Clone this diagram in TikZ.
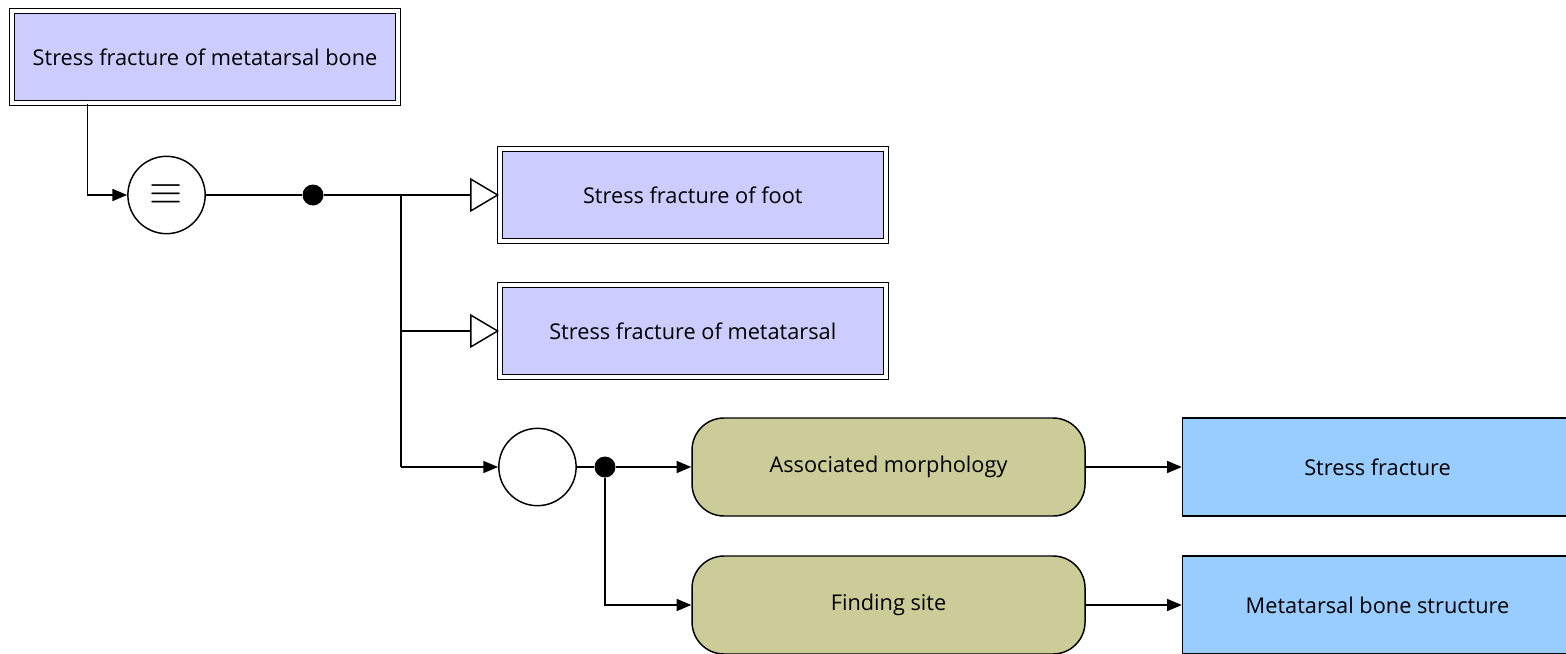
\documentclass[tikz,border=0pt]{standalone}
\usepackage{fontspec}
\setmainfont{Open Sans}
\usetikzlibrary{positioning,arrows.meta}

\definecolor{conceptfill}{HTML}{CCCCFF}
\definecolor{rolefill}{HTML}{CCCC99}
\definecolor{valuefill}{HTML}{99CCFF}

\begin{document}
\begin{tikzpicture}[
  line width=1.1pt,
  mytext/.style={font=\fontsize{16.3}{18}\selectfont},
  myconcept/.style={draw,double,double distance=2.6pt,fill=conceptfill,minimum width=289.5pt,minimum height=69pt,mytext},
  myrole/.style={draw,rounded corners=24pt,fill=rolefill,minimum width=294.75pt,minimum height=73.5pt,mytext},
  myvalue/.style={draw,fill=valuefill,minimum width=292.5pt,minimum height=73.5pt,mytext},
  mycircle/.style={draw,circle,fill=white,minimum size=58pt,inner sep=0pt},
  mydot/.style={circle,fill=black,minimum size=15.75pt,inner sep=0pt},
  myarrow/.style={-{Triangle[length=11pt,width=9pt]}},
  myisa/.style={-{Triangle[open,length=21.75pt,width=25.5pt]}},
 ]

\clip (0,0) rectangle (1174.5pt,-489.75pt);

\node[myconcept] (smb) at (153.75pt,-42.75pt) {Stress fracture of metatarsal bone};
\node[mycircle] (eq) at (124.9pt,-146.25pt) {\scalebox{3.2}{$\equiv$}};
\node[mydot] (d1) at (234.75pt,-146.25pt) {};
\coordinate (b1) at (300.75pt,-146.25pt);

\node[myconcept] (foot) at (519.6pt,-146.25pt) {Stress fracture of foot};
\node[myconcept] (meta) at (519.6pt,-248.25pt) {Stress fracture of metatarsal};
\coordinate (b2) at (b1 |- meta);
\coordinate (b3) at (300.75pt,-350.25pt);

\node[mycircle] (cir) at (403.1pt,-350.25pt) {};
\node[mydot] (d2) at (453.75pt,-350.25pt) {};

\node[myrole] (assoc) at (666.4pt,-350.25pt) {Associated morphology};
\node[myrole] (site) at (666.4pt,-453.75pt) {Finding site};
\node[myvalue, right=72pt of assoc] (sf) {Stress fracture};
\node[myvalue, right=72pt of site] (mbs) {Metatarsal bone structure};

\draw[myarrow] ([xshift=57pt]smb.south west) |- (eq);
\draw (eq) -- (d1) -- (b1) -- (b3);

\path[myisa]
(b1) edge (foot)
(b2) edge (meta);

\draw[myarrow] (b3) -- (cir);
\draw (cir) -- (d2);
\draw[myarrow] (d2) |- (site);

\path[myarrow]
(d2) edge (assoc)
(assoc) edge (sf)
(site) edge (mbs);

\end{tikzpicture}
\end{document}
